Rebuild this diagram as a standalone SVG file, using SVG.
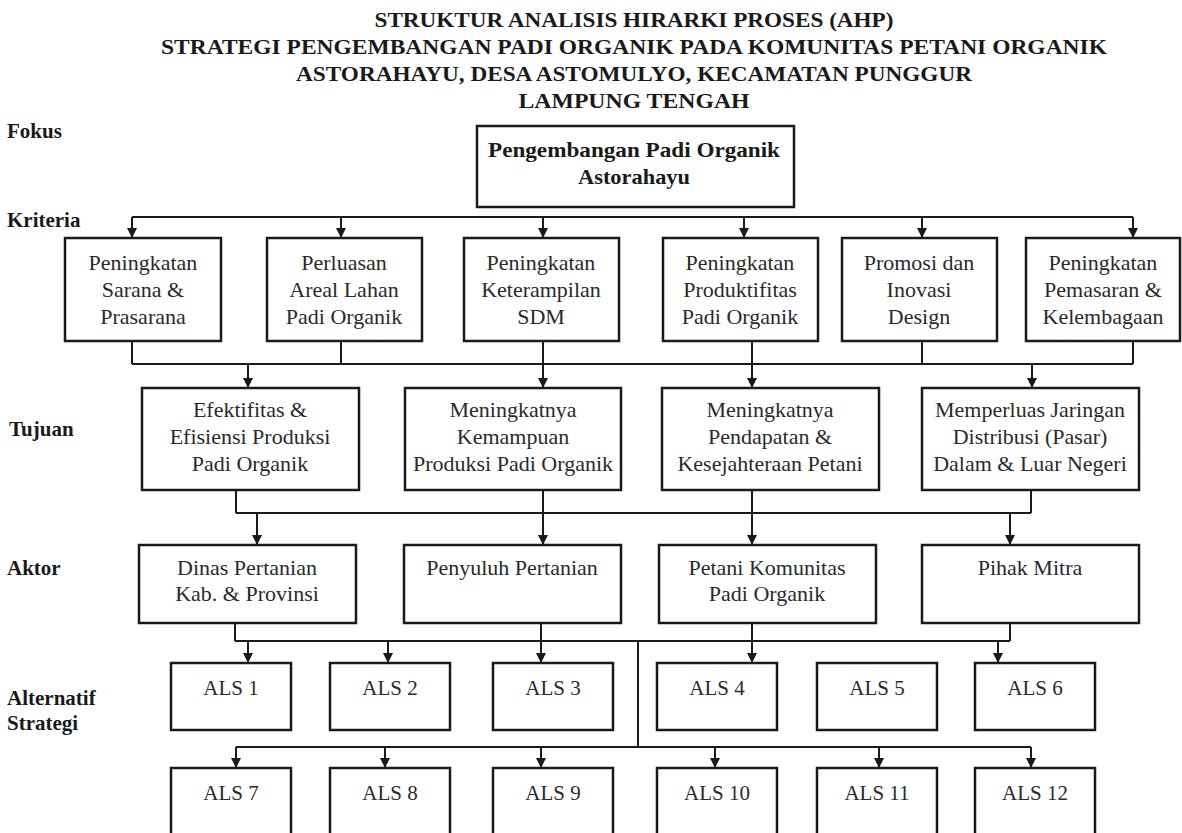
<svg xmlns="http://www.w3.org/2000/svg" width="1182" height="833" viewBox="0 0 1182 833">
<style>
.title{font-family:"Liberation Serif","Times New Roman",serif;font-weight:bold;font-size:21px;fill:#1a1a1a;text-anchor:middle}
.lbl{font-family:"Liberation Serif","Times New Roman",serif;font-weight:bold;font-size:21px;fill:#1a1a1a}
.box{fill:#ffffff;stroke:#1a1a1a;stroke-width:2.5}
.t{font-family:"Liberation Serif","Times New Roman",serif;font-size:22px;fill:#2a2a2a;text-anchor:middle}
.tb{font-family:"Liberation Serif","Times New Roman",serif;font-size:22px;font-weight:bold;fill:#1a1a1a;text-anchor:middle}
.als{font-family:"Liberation Serif","Times New Roman",serif;font-size:21px;fill:#2a2a2a;text-anchor:middle}
.c{fill:none;stroke:#1a1a1a;stroke-width:2}
.a{fill:none;stroke:#1a1a1a;stroke-width:2;marker-end:url(#arr)}
</style>
<defs>
<marker id="arr" markerUnits="userSpaceOnUse" markerWidth="10" markerHeight="10" refX="10" refY="5" orient="auto">
<path d="M0,0 L10,5 L0,10 z" fill="#1a1a1a"/>
</marker>
</defs>
<rect width="1182" height="833" fill="#ffffff"/>

<g id="title">
<text class="title" x="634" y="27" textLength="519" lengthAdjust="spacingAndGlyphs">STRUKTUR ANALISIS HIRARKI PROSES (AHP)</text>
<text class="title" x="634" y="54" textLength="946" lengthAdjust="spacingAndGlyphs">STRATEGI PENGEMBANGAN PADI ORGANIK PADA KOMUNITAS PETANI ORGANIK</text>
<text class="title" x="634" y="81" textLength="676" lengthAdjust="spacingAndGlyphs">ASTORAHAYU, DESA ASTOMULYO, KECAMATAN PUNGGUR</text>
<text class="title" x="634" y="108" textLength="231" lengthAdjust="spacingAndGlyphs">LAMPUNG TENGAH</text>
</g>

<g id="level-labels">
<text class="lbl" x="7" y="138">Fokus</text>
<text class="lbl" x="7" y="227">Kriteria</text>
<text class="lbl" x="9" y="436">Tujuan</text>
<text class="lbl" x="7" y="575">Aktor</text>
<text class="lbl" x="7" y="705">Alternatif</text>
<text class="lbl" x="7" y="730">Strategi</text>
</g>

<g id="connectors">
<path class="c" d="M132,217 H1133"/>
<path class="a" d="M132,217 V238"/>
<path class="a" d="M341,217 V238"/>
<path class="a" d="M543,217 V238"/>
<path class="a" d="M744,217 V238"/>
<path class="a" d="M922,217 V238"/>
<path class="a" d="M1133,217 V238"/>

<path class="c" d="M132,341 V364 M341,341 V364 M922,341 V364 M1133,341 V364 M132,364 H1133"/>
<path class="a" d="M248,364 V388"/>
<path class="a" d="M543,341 V388"/>
<path class="a" d="M752,341 V388"/>
<path class="a" d="M1032,364 V388"/>

<path class="c" d="M236,490 V513 M1031,490 V513 M236,513 H1031"/>
<path class="a" d="M257,513 V545"/>
<path class="a" d="M543,490 V545"/>
<path class="a" d="M752,490 V545"/>
<path class="a" d="M1010,513 V545"/>

<path class="c" d="M235,623 V641 M1010,623 V641 M235,641 H1010 M638,641 V747 M236,747 H1031"/>
<path class="a" d="M248,641 V663"/>
<path class="a" d="M388,641 V663"/>
<path class="a" d="M541,623 V663"/>
<path class="a" d="M752,623 V663"/>
<path class="a" d="M998,641 V663"/>
<path class="a" d="M236,747 V768"/>
<path class="a" d="M385,747 V768"/>
<path class="a" d="M541,747 V768"/>
<path class="a" d="M715,747 V768"/>
<path class="a" d="M879,747 V768"/>
<path class="a" d="M1031,747 V768"/>
</g>

<g id="fokus">
<rect class="box" x="477" y="126" width="317" height="81"/>
<text class="tb" x="634" y="157" textLength="292" lengthAdjust="spacingAndGlyphs">Pengembangan Padi Organik</text>
<text class="tb" x="634" y="184" textLength="112" lengthAdjust="spacingAndGlyphs">Astorahayu</text>
</g>

<g id="k1"><rect class="box" x="65" y="238" width="156" height="103"/>
<text class="t" x="143" y="270">Peningkatan</text><text class="t" x="143" y="297">Sarana &amp;</text><text class="t" x="143" y="324">Prasarana</text></g>
<g id="k2"><rect class="box" x="267" y="238" width="155" height="103"/>
<text class="t" x="344" y="270">Perluasan</text><text class="t" x="344" y="297">Areal Lahan</text><text class="t" x="344" y="324">Padi Organik</text></g>
<g id="k3"><rect class="box" x="464" y="238" width="155" height="103"/>
<text class="t" x="541" y="270">Peningkatan</text><text class="t" x="541" y="297">Keterampilan</text><text class="t" x="541" y="324">SDM</text></g>
<g id="k4"><rect class="box" x="663" y="238" width="155" height="103"/>
<text class="t" x="740" y="270">Peningkatan</text><text class="t" x="740" y="297">Produktifitas</text><text class="t" x="740" y="324">Padi Organik</text></g>
<g id="k5"><rect class="box" x="842" y="238" width="155" height="103"/>
<text class="t" x="919" y="270">Promosi dan</text><text class="t" x="919" y="297">Inovasi</text><text class="t" x="919" y="324">Design</text></g>
<g id="k6"><rect class="box" x="1026" y="238" width="154" height="103"/>
<text class="t" x="1103" y="270">Peningkatan</text><text class="t" x="1103" y="297">Pemasaran &amp;</text><text class="t" x="1103" y="324">Kelembagaan</text></g>

<g id="t1"><rect class="box" x="142" y="388" width="217" height="102"/>
<text class="t" x="250" y="417">Efektifitas &amp;</text><text class="t" x="250" y="444">Efisiensi Produksi</text><text class="t" x="250" y="471">Padi Organik</text></g>
<g id="t2"><rect class="box" x="405" y="388" width="216" height="102"/>
<text class="t" x="513" y="417">Meningkatnya</text><text class="t" x="513" y="444">Kemampuan</text><text class="t" x="513" y="471">Produksi Padi Organik</text></g>
<g id="t3"><rect class="box" x="662" y="388" width="217" height="102"/>
<text class="t" x="770" y="417">Meningkatnya</text><text class="t" x="770" y="444">Pendapatan &amp;</text><text class="t" x="770" y="471">Kesejahteraan Petani</text></g>
<g id="t4"><rect class="box" x="922" y="388" width="217" height="102"/>
<text class="t" x="1030" y="417">Memperluas Jaringan</text><text class="t" x="1030" y="444">Distribusi (Pasar)</text><text class="t" x="1030" y="471">Dalam &amp; Luar Negeri</text></g>

<g id="a1"><rect class="box" x="139" y="545" width="217" height="78"/>
<text class="t" x="247" y="575">Dinas Pertanian</text><text class="t" x="247" y="601">Kab. &amp; Provinsi</text></g>
<g id="a2"><rect class="box" x="404" y="545" width="217" height="78"/>
<text class="t" x="512" y="575">Penyuluh Pertanian</text></g>
<g id="a3"><rect class="box" x="659" y="545" width="217" height="78"/>
<text class="t" x="767" y="575">Petani Komunitas</text><text class="t" x="767" y="601">Padi Organik</text></g>
<g id="a4"><rect class="box" x="922" y="545" width="217" height="78"/>
<text class="t" x="1030" y="575">Pihak Mitra</text></g>

<g id="als1"><rect class="box" x="171" y="663" width="120" height="67"/><text class="als" x="231" y="695">ALS 1</text></g>
<g id="als2"><rect class="box" x="330" y="663" width="120" height="67"/><text class="als" x="390" y="695">ALS 2</text></g>
<g id="als3"><rect class="box" x="493" y="663" width="120" height="67"/><text class="als" x="553" y="695">ALS 3</text></g>
<g id="als4"><rect class="box" x="657" y="663" width="120" height="67"/><text class="als" x="717" y="695">ALS 4</text></g>
<g id="als5"><rect class="box" x="817" y="663" width="120" height="67"/><text class="als" x="877" y="695">ALS 5</text></g>
<g id="als6"><rect class="box" x="975" y="663" width="120" height="67"/><text class="als" x="1035" y="695">ALS 6</text></g>

<g id="als7"><rect class="box" x="171" y="768" width="120" height="80"/><text class="als" x="231" y="800">ALS 7</text></g>
<g id="als8"><rect class="box" x="330" y="768" width="120" height="80"/><text class="als" x="390" y="800">ALS 8</text></g>
<g id="als9"><rect class="box" x="493" y="768" width="120" height="80"/><text class="als" x="553" y="800">ALS 9</text></g>
<g id="als10"><rect class="box" x="657" y="768" width="120" height="80"/><text class="als" x="717" y="800">ALS 10</text></g>
<g id="als11"><rect class="box" x="817" y="768" width="120" height="80"/><text class="als" x="877" y="800">ALS 11</text></g>
<g id="als12"><rect class="box" x="975" y="768" width="120" height="80"/><text class="als" x="1035" y="800">ALS 12</text></g>
</svg>
